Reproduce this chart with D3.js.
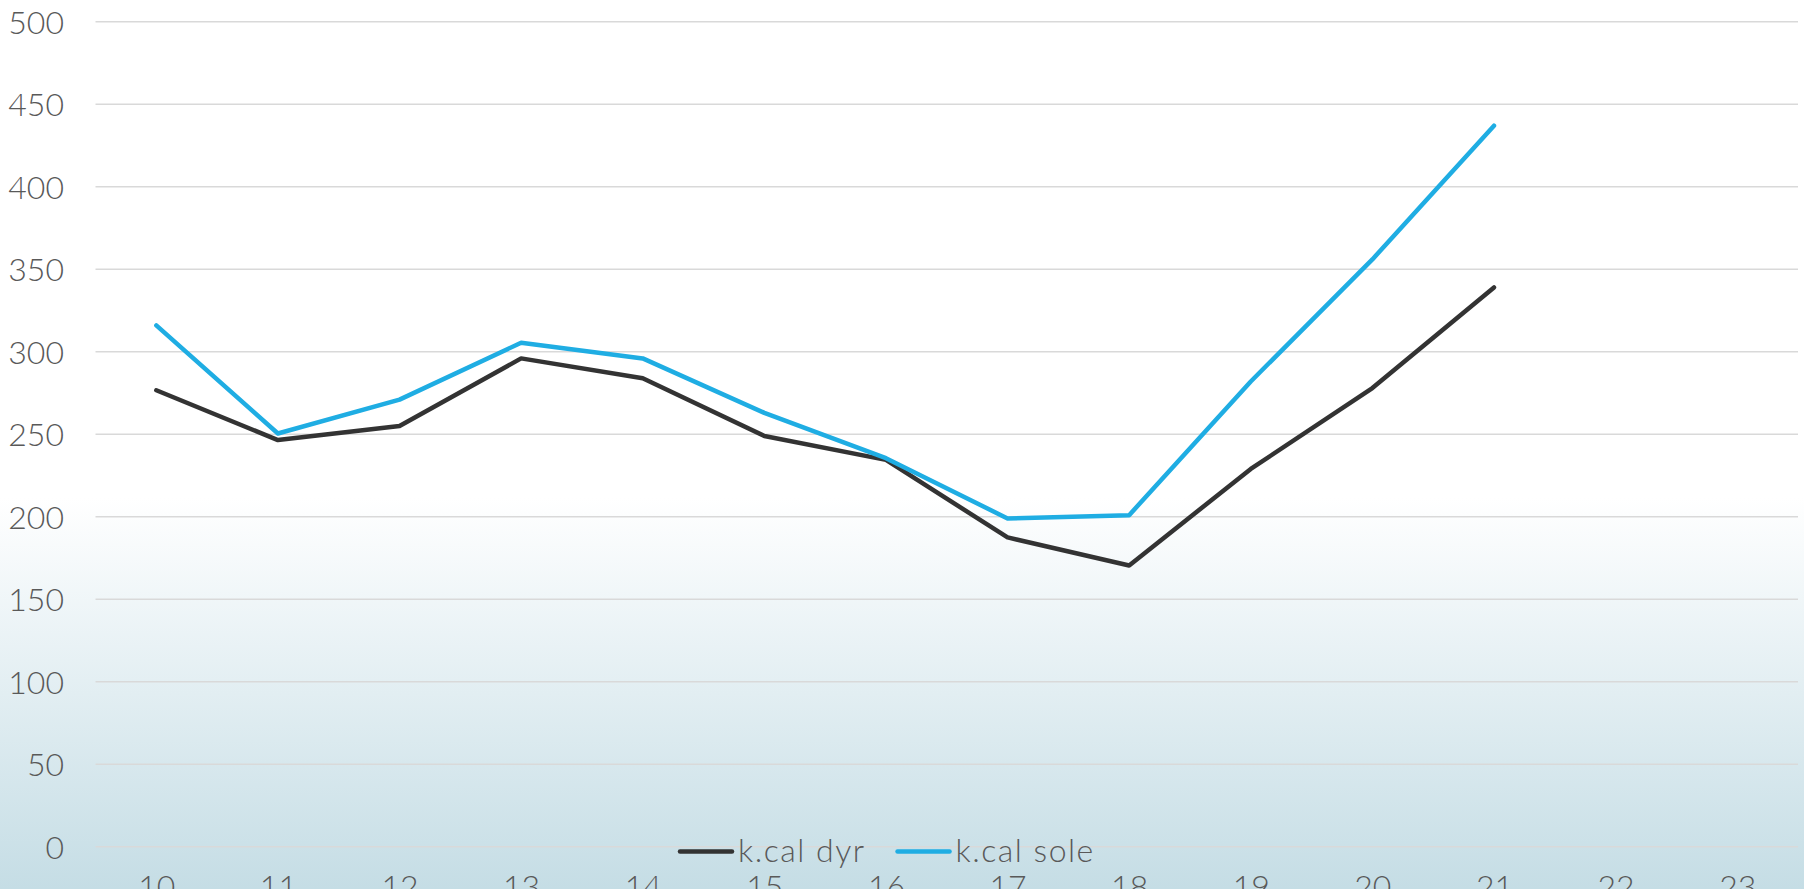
<!DOCTYPE html>
<html>
<head>
<meta charset="utf-8">
<script src="https://cdn.jsdelivr.net/npm/d3@7"></script>
<style>
  html, body { margin: 0; padding: 0; background: #fff; overflow: hidden; }
  svg { display: block; }
  text { font-family: Lato, "DejaVu Sans", sans-serif; font-weight: 300; fill: #595959; }
</style>
</head>
<body>
<svg id="chart"></svg>
<script>
const categories = ['10', '11', '12', '13', '14', '15', '16', '17', '18', '19', '20', '21', '22', '23'];
const kcalDyr  = [276.7, 246.5, 255, 296, 284, 249, 234.5, 187.5, 170.5, 229, 278, 339, null, null];
const kcalSole = [316, 250.5, 271, 305.5, 296, 263, 235.5, 199, 201, 282, 356, 437, null, null];
const yTicks = [0, 50, 100, 150, 200, 250, 300, 350, 400, 450, 500];
const seriesNames = ['k.cal dyr', 'k.cal sole'];
const seriesColors = ['#333333', '#1fade3'];

const WIDTH = 1804,
      HEIGHT = 889,
      MARGINS = { top: 21.8, right: 6, bottom: 42.2, left: 95.5 };

let svg = d3.select('#chart')
   .attr('width', WIDTH)
   .attr('height', HEIGHT);

// background gradient, white on top fading into pale blue
let grad = svg.append('defs').append('linearGradient')
   .attr('id', 'bg')
   .attr('x1', 0).attr('y1', 0).attr('x2', 0).attr('y2', 1);
grad.append('stop').attr('offset', '0.56').attr('stop-color', '#ffffff');
grad.append('stop').attr('offset', '1').attr('stop-color', '#c5dde5');

svg.append('rect')
   .attr('width', WIDTH)
   .attr('height', HEIGHT)
   .attr('fill', 'url(#bg)');

const x = d3.scalePoint()
   .domain(categories)
   .range([MARGINS.left, WIDTH - MARGINS.right])
   .padding(0.5);
const y = d3.scaleLinear()
   .domain([0, 500])
   .range([HEIGHT - MARGINS.bottom, MARGINS.top]);

// gridlines
svg.append('g')
   .selectAll('line')
   .data(yTicks)
   .join('line')
   .attr('x1', MARGINS.left)
   .attr('x2', WIDTH - MARGINS.right)
   .attr('y1', d => y(d))
   .attr('y2', d => y(d))
   .attr('stroke', '#d9d9d9')
   .attr('stroke-width', 1.5);

// y axis labels
let yAxis = svg.append('g')
   .attr('transform', 'translate(64,0)')
   .call(d3.axisLeft(y).tickValues(yTicks).tickSize(0).tickPadding(0));
yAxis.select('.domain').remove();
yAxis.selectAll('text')
   .attr('font-size', 32)
   .attr('font-family', null)
   .attr('fill', '#595959')
   .attr('dy', '0.36em');

// x axis labels (cut by the bottom edge, like the original)
let xAxis = svg.append('g')
   .attr('transform', 'translate(0,' + y(0) + ')')
   .call(d3.axisBottom(x).tickSize(0));
xAxis.select('.domain').remove();
xAxis.selectAll('text')
   .attr('font-size', 32)
   .attr('font-family', null)
   .attr('fill', '#595959')
   .attr('y', 51)
   .attr('dy', 0);

// lines
const line = d3.line()
   .defined(d => d.value != null)
   .x(d => x(d.cat))
   .y(d => y(d.value));

[kcalDyr, kcalSole].forEach((vals, i) => {
   let data = categories.map((c, j) => ({ cat: c, value: vals[j] }));
   svg.append('path')
      .datum(data)
      .attr('fill', 'none')
      .attr('stroke', seriesColors[i])
      .attr('stroke-width', 4.5)
      .attr('stroke-linejoin', 'round')
      .attr('stroke-linecap', 'round')
      .attr('d', line);
});

// legend
let legend = svg.append('g').attr('transform', 'translate(0,851.5)');
let lx = 680;
seriesNames.forEach((name, i) => {
   legend.append('line')
      .attr('x1', lx).attr('x2', lx + 52)
      .attr('y1', 0).attr('y2', 0)
      .attr('stroke', seriesColors[i])
      .attr('stroke-width', 4.5)
      .attr('stroke-linecap', 'round');
   let t = legend.append('text')
      .attr('x', lx + 58)
      .attr('y', 0)
      .attr('dy', '0.34em')
      .attr('font-size', 32)
      .attr('letter-spacing', 1.5)
      .text(name);
   lx += 58 + t.node().getComputedTextLength() + 32;
});
</script>
</body>
</html>
